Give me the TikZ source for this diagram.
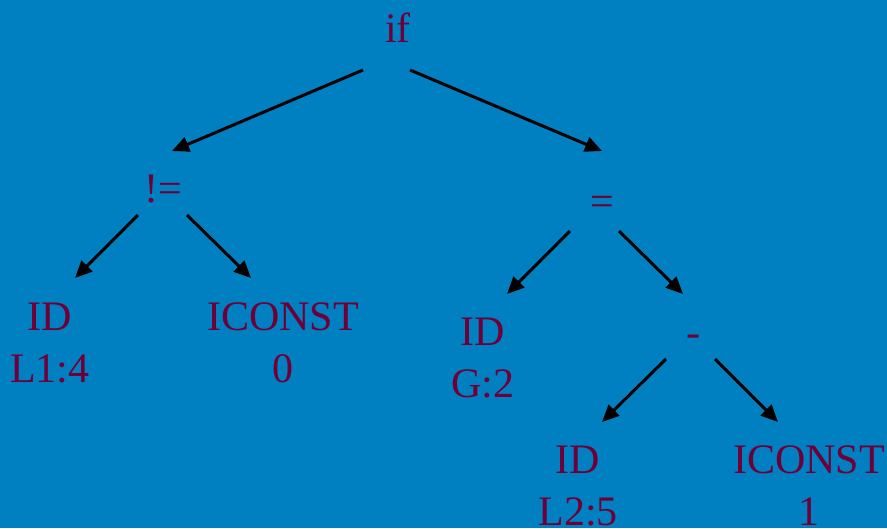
\documentclass[tikz,border=0pt]{standalone}
\usepackage{fontspec}
\setmainfont{Liberation Serif}
\usetikzlibrary{arrows.meta,calc}
\definecolor{bg}{RGB}{0,128,192}
\definecolor{ink}{RGB}{110,0,55}
\begin{document}
\begin{tikzpicture}[x=1pt,y=-1pt,
  lbl/.style={text=ink,font=\fontsize{42}{52}\selectfont,inner sep=0pt,anchor=base,align=center},
  arr/.style={draw=black,line width=3pt,-{Triangle[length=17pt,width=15pt]}}]
\fill[bg] (0,0) rectangle (887,528);
\useasboundingbox (0,0) rectangle (887,528);
\node[lbl] (if) at (398,42) {if};
\node[lbl] (ne) at (163,202) {!=};
\node[lbl] (eq) at (602,215) {=};
\node[lbl] (id1) at (50,382) {ID\\L1:4};
\node[lbl] (ic0) at (283,382) {ICONST\\0};
\node[lbl] (idg) at (483,397) {ID\\G:2};
\node[lbl] (mi) at (693,346) {-};
\node[lbl] (id2) at (578,525) {ID\\L2:5};
\node[lbl] (ic1) at (809,525) {ICONST\\1};
\draw[arr] ($(if.base)+(-35,28)$) -- ($(ne.base)+(9,-51)$);
\draw[arr] ($(if.base)+(12,28)$) -- ($(eq.base)+(0,-64)$);
\draw[arr] ($(ne.base)+(-25,13)$) -- ($(id1.base)+(25,-104)$);
\draw[arr] ($(ne.base)+(24,13)$) -- ($(ic0.base)+(-32,-104)$);
\draw[arr] ($(eq.base)+(-32,16)$) -- ($(idg.base)+(24,-103)$);
\draw[arr] ($(eq.base)+(17,16)$) -- ($(mi.base)+(-10,-52)$);
\draw[arr] ($(mi.base)+(-27,13)$) -- ($(id2.base)+(24,-103)$);
\draw[arr] ($(mi.base)+(22,13)$) -- ($(ic1.base)+(-31,-103)$);
\end{tikzpicture}
\end{document}
